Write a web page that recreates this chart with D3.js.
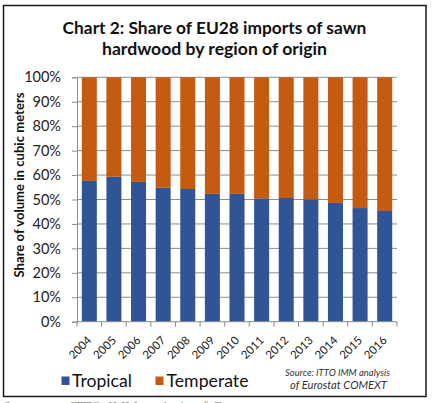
<!DOCTYPE html>
<html>
<head>
<meta charset="utf-8">
<script src="https://cdn.jsdelivr.net/npm/d3@7"></script>
<style>
  html, body { margin: 0; padding: 0; background: #fff; }
  svg { display: block; }
</style>
</head>
<body>
<svg id="chart" width="433" height="403"></svg>
<script>
const years = ["2004","2005","2006","2007","2008","2009","2010","2011","2012","2013","2014","2015","2016"];
const tropical = [57.6, 59.3, 57.2, 54.8, 54.3, 52.3, 52.3, 50.5, 50.6, 50.1, 48.6, 46.5, 45.3];
const temperate = [42.4, 40.7, 42.8, 45.2, 45.7, 47.7, 47.7, 49.5, 49.4, 49.9, 51.4, 53.5, 54.7];
const seriesNames = ["Tropical", "Temperate"];
const seriesColors = ["#2F5597", "#C55A11"];
const yTicks = [0, 10, 20, 30, 40, 50, 60, 70, 80, 90, 100];
const titleLines = ["Chart 2: Share of EU28 imports of sawn", "hardwood by region of origin"];
const yTitle = "Share of volume in cubic meters";
const sourceLines = ["Source: ITTO IMM analysis", "of Eurostat COMEXT"];

const svg = d3.select("#chart");
const FONT = "Lato, 'Open Sans', sans-serif";

function fit(sel, target) {
  const w = sel.node().getComputedTextLength();
  const fs = parseFloat(sel.attr("font-size"));
  sel.attr("font-size", (fs * target / w).toFixed(2));
}

svg.append("rect").attr("width", 433).attr("height", 403).attr("fill", "#fff");

// cropped text below the frame
svg.append("text").attr("x", 3).attr("y", 411.5)
  .attr("font-family", "'Liberation Serif', serif").attr("font-size", 14)
  .attr("fill", "#9a9a9a").text("S");
svg.append("text").attr("x", 70).attr("y", 411.5)
  .attr("font-family", "'Liberation Serif', serif").attr("font-size", 14)
  .attr("fill", "#9a9a9a").attr("word-spacing", 3).text("ITTO IMM analysis of Eurostat");

// frame
svg.append("rect").attr("x", 3.5).attr("y", 5.5).attr("width", 422.5).attr("height", 391)
  .attr("fill", "none").attr("stroke", "#1a1a1a").attr("stroke-width", 1.5);

// title
const titleSpecs = [{y: 33.5, w: 304}, {y: 54.5, w: 225}];
titleLines.forEach((t, i) => {
  const s = svg.append("text").attr("x", 214.5).attr("y", titleSpecs[i].y)
    .attr("text-anchor", "middle").attr("font-family", FONT).attr("font-weight", "bold")
    .attr("font-size", 18).attr("fill", "#111").text(t);
  fit(s, titleSpecs[i].w);
});

const x = d3.scaleBand().domain(years).range([77, 397]).paddingInner(0.39).paddingOuter(0.195);
const y = d3.scaleLinear().domain([0, 100]).range([321.7, 77.3]);

// gridlines
svg.append("g").selectAll("line").data(yTicks.filter(d => d > 0)).join("line")
  .attr("x1", 77).attr("x2", 397)
  .attr("y1", d => y(d)).attr("y2", d => y(d))
  .attr("stroke", "#8c8c8c").attr("stroke-width", 1);

// stacked bars
const rows = years.map((yr, i) => ({year: yr, Tropical: tropical[i], Temperate: temperate[i]}));
const stack = d3.stack().keys(seriesNames)(rows);
svg.append("g").selectAll("g").data(stack).join("g")
  .attr("fill", (d, i) => seriesColors[i])
  .selectAll("rect").data(d => d).join("rect")
  .attr("x", d => x(d.data.year))
  .attr("width", x.bandwidth())
  .attr("y", d => y(d[1]))
  .attr("height", d => y(d[0]) - y(d[1]));

// y axis
const yAxis = svg.append("g").attr("transform", "translate(77,0)")
  .call(d3.axisLeft(y).tickValues(yTicks).tickSize(5).tickPadding(11).tickFormat(d => d + "%"));
yAxis.select(".domain").attr("stroke", "#8c8c8c");
yAxis.selectAll(".tick line").attr("stroke", "#8c8c8c");
yAxis.selectAll(".tick text").attr("font-family", FONT).attr("font-size", 14.5).attr("fill", "#222");

// x axis
const xAxis = svg.append("g").attr("transform", "translate(0,321.7)");
xAxis.append("line").attr("x1", 77).attr("x2", 397).attr("stroke", "#8c8c8c");
const bounds = years.map(yr => x(yr) - x.step() * x.paddingInner() / 2).concat([397]);
bounds[0] = 77;
xAxis.selectAll("line.tk").data(bounds).join("line").attr("class", "tk")
  .attr("x1", d => d).attr("x2", d => d).attr("y1", 0).attr("y2", 5)
  .attr("stroke", "#8c8c8c");
svg.append("g").selectAll("text").data(years).join("text")
  .attr("transform", d => `translate(${x(d) + x.bandwidth() / 2 + 3},341) rotate(-45)`)
  .attr("text-anchor", "end").attr("font-family", FONT).attr("font-size", 11.5)
  .attr("fill", "#222").text(d => d);

// y title
const yt = svg.append("text").attr("transform", "translate(24,185) rotate(-90)")
  .attr("text-anchor", "middle").attr("font-family", FONT).attr("font-weight", "bold")
  .attr("font-size", 12).attr("fill", "#111").text(yTitle);
fit(yt, 185);

// legend
const legendSpecs = [{rx: 61.5, tx: 72, w: 60}, {rx: 155.5, tx: 166.5, w: 82}];
seriesNames.forEach((n, i) => {
  svg.append("rect").attr("x", legendSpecs[i].rx).attr("y", 376.5).attr("width", 8).attr("height", 8.5)
    .attr("fill", seriesColors[i]);
  const t = svg.append("text").attr("x", legendSpecs[i].tx).attr("y", 386.5)
    .attr("font-family", FONT).attr("font-size", 17).attr("fill", "#111").text(n);
  fit(t, legendSpecs[i].w);
});

// source note
const srcSpecs = [{x: 337.5, y: 376, w: 105}, {x: 338.5, y: 388.5, w: 97}];
sourceLines.forEach((l, i) => {
  const t = svg.append("text").attr("x", srcSpecs[i].x).attr("y", srcSpecs[i].y)
    .attr("text-anchor", "middle").attr("font-family", FONT).attr("font-style", "italic")
    .attr("font-size", 10).attr("fill", "#333").text(l);
  fit(t, srcSpecs[i].w);
});
</script>
</body>
</html>
